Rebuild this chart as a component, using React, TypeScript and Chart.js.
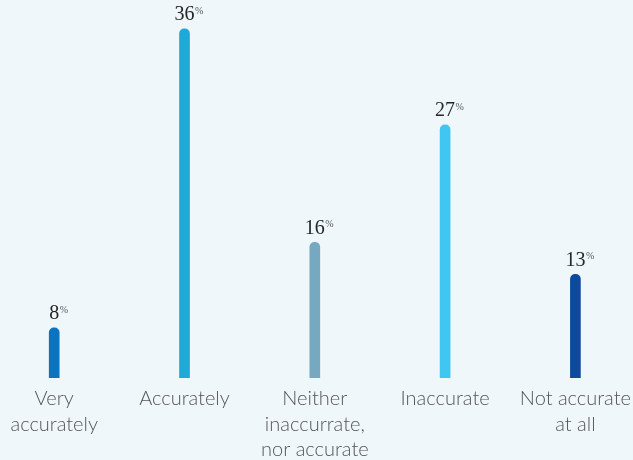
import React, { useEffect, useRef } from "react";
import { Chart, registerables } from "chart.js";

Chart.register(...registerables);

// Survey answers and their shares (%)
const categories: string[][] = [
  ["Very", "accurately"],
  ["Accurately"],
  ["Neither", "inaccurrate,", "nor accurate"],
  ["Inaccurate"],
  ["Not accurate", "at all"],
];
const shares: number[] = [8, 36, 16, 27, 13];
const barColors: string[] = ["#0a74c1", "#1fa9d8", "#76a9c1", "#3fc7f1", "#0d4a9b"];

// Visible value range of the bar axis and the index axis
const valueRange: number[] = [3.3, 38.7];
const indexRange: number[] = [-0.416, 4.442];

const valueLabels = {
  id: "valueLabels",
  afterDatasetsDraw(chart: any) {
    const { ctx } = chart;
    const yScale = chart.scales.y;
    const meta = chart.getDatasetMeta(0);
    ctx.save();
    meta.data.forEach((bar: any, i: number) => {
      const v = shares[i];
      const x = bar.x;
      const baseY = yScale.getPixelForValue(v) - 8.5;
      const num = String(v);
      ctx.font = '20px "Liberation Serif", "Times New Roman", serif';
      ctx.fillStyle = "#262626";
      ctx.textAlign = "center";
      ctx.textBaseline = "alphabetic";
      ctx.fillText(num, x, baseY);
      const w = ctx.measureText(num).width;
      ctx.font = '10px "Liberation Serif", "Times New Roman", serif';
      ctx.fillStyle = "#555555";
      ctx.textAlign = "left";
      ctx.fillText("%", x + w / 2 + 0.5, baseY - 6.5);
    });
    ctx.restore();
  },
};

export default function App() {
  const canvasRef = useRef<HTMLCanvasElement | null>(null);

  useEffect(() => {
    if (!canvasRef.current) return;
    const chart = new Chart(canvasRef.current, {
      type: "bar",
      data: {
        datasets: [
          {
            data: shares.map((v, i) => ({ x: i, y: v })),
            backgroundColor: barColors,
            barThickness: 10,
            borderRadius: 5,
            borderSkipped: false,
          },
        ],
      },
      options: {
        animation: false,
        responsive: true,
        maintainAspectRatio: false,
        layout: { padding: 0 },
        plugins: {
          legend: { display: false },
          tooltip: { enabled: false },
        },
        scales: {
          x: {
            type: "linear",
            offset: false,
            min: indexRange[0],
            max: indexRange[1],
            grid: { display: false, drawTicks: false },
            border: { display: false },
            afterBuildTicks: (scale: any) => {
              scale.ticks = categories.map((_, i) => ({ value: i }));
            },
            afterFit: (scale: any) => {
              scale.height = 82;
              scale.paddingLeft = 0;
              scale.paddingRight = 0;
            },
            ticks: {
              autoSkip: false,
              maxRotation: 0,
              minRotation: 0,
              padding: 8,
              color: "#555555",
              font: { family: "Lato, 'Open Sans', sans-serif", size: 20, weight: "300", lineHeight: 25.5 / 20 },
              callback: (value: any) => categories[Math.round(Number(value))],
            },
          },
          y: {
            display: false,
            min: valueRange[0],
            max: valueRange[1],
          },
        },
      },
      plugins: [valueLabels],
    } as any);
    return () => chart.destroy();
  }, []);

  return (
    <div
      style={{
        position: "fixed",
        left: 0,
        top: 0,
        width: 633,
        height: 460,
        background: "#eff7fa",
      }}
    >
      <canvas ref={canvasRef} />
    </div>
  );
}
